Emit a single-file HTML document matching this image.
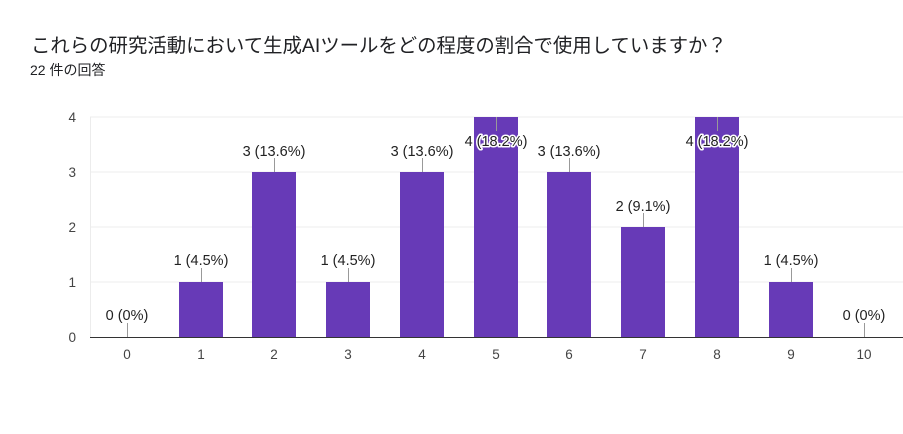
<!DOCTYPE html>
<html><head><meta charset="utf-8"><style>
body{margin:0;background:#fff;width:903px;height:429px;overflow:hidden}
svg text{font-family:"Liberation Sans","Noto Sans CJK JP",sans-serif}
</style></head><body>
<svg width="903" height="429" xmlns="http://www.w3.org/2000/svg">
<text x="31" y="52" font-size="19.4" fill="#202124">これらの研究活動において生成AIツールをどの程度の割合で使用していますか？</text>
<text x="30" y="75" font-size="14" fill="#202124">22 件の回答</text>
<g stroke="#ececec" stroke-width="1">
<line x1="90" y1="117" x2="903" y2="117"/>
<line x1="90" y1="172" x2="903" y2="172"/>
<line x1="90" y1="227" x2="903" y2="227"/>
<line x1="90" y1="282" x2="903" y2="282"/>
<line x1="90.5" y1="117" x2="90.5" y2="337"/>
</g>
<g font-size="13.5" fill="#444" text-anchor="end">
<text x="76" y="122">4</text><text x="76" y="177">3</text><text x="76" y="232">2</text><text x="76" y="287">1</text><text x="76" y="342">0</text>
</g>
<g fill="#673ab7">
<rect x="179" y="282" width="44" height="55"/>
<rect x="252" y="172" width="44" height="165"/>
<rect x="326" y="282" width="44" height="55"/>
<rect x="400" y="172" width="44" height="165"/>
<rect x="474" y="117" width="44" height="220"/>
<rect x="547" y="172" width="44" height="165"/>
<rect x="621" y="227" width="44" height="110"/>
<rect x="695" y="117" width="44" height="220"/>
<rect x="769" y="282" width="44" height="55"/>
</g>
<line x1="90" y1="337.5" x2="903" y2="337.5" stroke="#333" stroke-width="1"/>
<g stroke="#999" stroke-width="1">
<line x1="127.5" y1="337" x2="127.5" y2="323"/>
<line x1="201.5" y1="282" x2="201.5" y2="268"/>
<line x1="274.5" y1="172" x2="274.5" y2="158"/>
<line x1="348.5" y1="282" x2="348.5" y2="268"/>
<line x1="422.5" y1="172" x2="422.5" y2="158"/>
<line x1="496.5" y1="117" x2="496.5" y2="131"/>
<line x1="569.5" y1="172" x2="569.5" y2="158"/>
<line x1="643.5" y1="227" x2="643.5" y2="213"/>
<line x1="717.5" y1="117" x2="717.5" y2="131"/>
<line x1="791.5" y1="282" x2="791.5" y2="268"/>
<line x1="864.5" y1="337" x2="864.5" y2="323"/>
</g>
<g font-size="14.5" fill="#222" text-anchor="middle" stroke="#fff" stroke-width="3" paint-order="stroke" stroke-linejoin="round">
<text x="127" y="320">0 (0%)</text>
<text x="201" y="265">1 (4.5%)</text>
<text x="274" y="156">3 (13.6%)</text>
<text x="348" y="265">1 (4.5%)</text>
<text x="422" y="156">3 (13.6%)</text>
<text x="496" y="146">4 (18.2%)</text>
<text x="569" y="156">3 (13.6%)</text>
<text x="643" y="211">2 (9.1%)</text>
<text x="717" y="146">4 (18.2%)</text>
<text x="791" y="265">1 (4.5%)</text>
<text x="864" y="320">0 (0%)</text>
</g>
<g font-size="13.5" fill="#444" text-anchor="middle">
<text x="127" y="359">0</text><text x="201" y="359">1</text><text x="274" y="359">2</text><text x="348" y="359">3</text><text x="422" y="359">4</text><text x="496" y="359">5</text><text x="569" y="359">6</text><text x="643" y="359">7</text><text x="717" y="359">8</text><text x="791" y="359">9</text><text x="864" y="359">10</text>
</g>
</svg>
</body></html>
